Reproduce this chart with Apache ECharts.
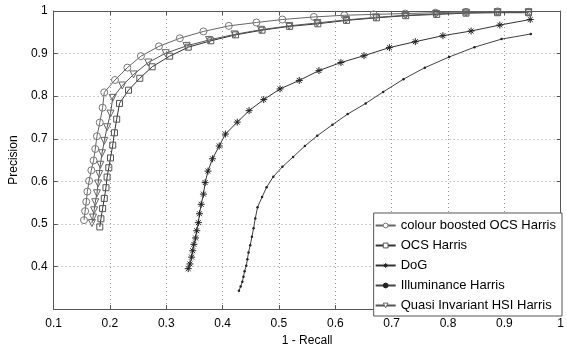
<!DOCTYPE html>
<html>
<head>
<meta charset="utf-8">
<script src="https://cdn.jsdelivr.net/npm/echarts@6/dist/echarts.min.js"></script>
<style>
  html, body { margin: 0; padding: 0; background: #fff; }
  #chart { width: 567px; height: 352px; }
</style>
</head>
<body>
<div id="chart"></div>
<script>
// 1 - recall (x) vs precision (y)
const seriesNames = [
  'colour boosted OCS Harris',
  'OCS Harris',
  'DoG',
  'Illuminance Harris',
  'Quasi Invariant HSI Harris',
]

const cbOcsHarris = [
  [0.154, 0.509], [0.156, 0.530], [0.158, 0.552], [0.160, 0.576], [0.163, 0.601],
  [0.167, 0.626], [0.171, 0.649], [0.174, 0.676], [0.177, 0.706], [0.182, 0.738],
  [0.187, 0.773], [0.190, 0.809], [0.209, 0.838], [0.231, 0.867], [0.255, 0.894],
  [0.287, 0.917], [0.324, 0.936], [0.366, 0.952], [0.411, 0.965], [0.460, 0.973],
  [0.506, 0.980], [0.562, 0.986], [0.616, 0.990], [0.668, 0.992], [0.724, 0.994],
  [0.778, 0.996], [0.832, 0.998], [0.888, 0.999], [0.943, 0.998],
]

const ocsHarris = [
  [0.182, 0.493], [0.184, 0.512], [0.187, 0.536], [0.190, 0.560], [0.193, 0.585],
  [0.195, 0.610], [0.198, 0.632], [0.201, 0.655], [0.205, 0.685], [0.208, 0.714],
  [0.212, 0.746], [0.217, 0.783], [0.233, 0.814], [0.253, 0.842], [0.275, 0.869],
  [0.306, 0.894], [0.339, 0.915], [0.379, 0.930], [0.423, 0.944], [0.470, 0.955],
  [0.519, 0.964], [0.569, 0.970], [0.620, 0.978], [0.673, 0.984], [0.725, 0.989],
  [0.780, 0.992], [0.832, 0.995], [0.888, 0.996], [0.943, 0.996],
]

const dog = [
  [0.339, 0.395], [0.342, 0.406], [0.345, 0.422], [0.347, 0.437], [0.349, 0.452],
  [0.352, 0.467], [0.354, 0.484], [0.357, 0.503], [0.359, 0.524], [0.362, 0.546],
  [0.366, 0.570], [0.369, 0.597], [0.374, 0.624], [0.382, 0.653], [0.394, 0.683],
  [0.405, 0.711], [0.426, 0.739], [0.447, 0.766], [0.473, 0.792], [0.502, 0.817],
  [0.536, 0.837], [0.571, 0.860], [0.610, 0.879], [0.651, 0.895], [0.696, 0.914],
  [0.742, 0.928], [0.791, 0.942], [0.841, 0.953], [0.892, 0.967], [0.946, 0.980],
]

const illumHarris = [
  [0.429, 0.343], [0.432, 0.353], [0.435, 0.364], [0.437, 0.376], [0.439, 0.389],
  [0.442, 0.402], [0.444, 0.417], [0.446, 0.433], [0.449, 0.450], [0.452, 0.470],
  [0.455, 0.490], [0.458, 0.513], [0.462, 0.539], [0.470, 0.563], [0.478, 0.586],
  [0.490, 0.611], [0.506, 0.634], [0.525, 0.657], [0.546, 0.683], [0.568, 0.707],
  [0.595, 0.733], [0.622, 0.758], [0.654, 0.783], [0.685, 0.810], [0.721, 0.840],
  [0.759, 0.867], [0.802, 0.892], [0.847, 0.915], [0.895, 0.934], [0.947, 0.946],
]

const qiHsiHarris = [
  [0.168, 0.502], [0.170, 0.515], [0.172, 0.532], [0.174, 0.551], [0.177, 0.572],
  [0.179, 0.595], [0.181, 0.617], [0.183, 0.639], [0.186, 0.666], [0.190, 0.695],
  [0.195, 0.727], [0.201, 0.759], [0.205, 0.796], [0.222, 0.825], [0.242, 0.851],
  [0.268, 0.879], [0.299, 0.901], [0.336, 0.918], [0.376, 0.932], [0.421, 0.945],
  [0.468, 0.956], [0.518, 0.965], [0.568, 0.972], [0.619, 0.979], [0.672, 0.985],
  [0.725, 0.990], [0.779, 0.993], [0.832, 0.996], [0.888, 0.997], [0.943, 0.997],
]

const xTicks = { min: 0.1, max: 1, step: 0.1 }
const yTicks = { min: 0.3, max: 1, step: 0.1 }

const FONT = '"Liberation Sans", Arial, Helvetica, sans-serif'

// outline-only marker shapes (MATLAB style: o, s, *, ., v)
const SYM_CIRCLE = 'path://M10,0A10,10,0,1,1,-10,0A10,10,0,1,1,10,0Z'
const SYM_SQUARE = 'path://M-10,-10L10,-10L10,10L-10,10Z'
const SYM_STAR = 'path://M0,-10L0,10M-10,0L10,0M-7,-7L7,7M-7,7L7,-7'
const SYM_TRI_DOWN = 'path://M-10,-8L10,-8L0,10Z'

function fmt(v) {
  return String(+v.toFixed(1))
}

function line(name, data, symbol, size, color, markColor, extra) {
  return Object.assign({
    name,
    type: 'line',
    data,
    symbol,
    symbolSize: size,
    showSymbol: true,
    animation: false,
    lineStyle: { width: 1, color },
    itemStyle: { color: 'none', borderColor: markColor, borderWidth: 1 },
    emphasis: { disabled: true },
    z: 3,
  }, extra || {})
}

function legendItem(name, markColor, fill) {
  return {
    name,
    itemStyle: { color: fill || '#fff', borderColor: markColor, borderWidth: 1 },
  }
}

const chart = echarts.init(document.getElementById('chart'))

const gridCommon = {
  axisLine: { show: true, lineStyle: { color: '#555', width: 1 } },
  axisTick: { show: true, inside: true, length: 4, lineStyle: { color: '#555' } },
}

chart.setOption({
  backgroundColor: '#fff',
  animation: false,
  textStyle: { fontFamily: FONT },
  grid: { left: 49, right: 5, top: 11, bottom: 36, show: false },
  legend: {
    data: [
      legendItem(seriesNames[0], '#777'),
      legendItem(seriesNames[1], '#555'),
      legendItem(seriesNames[2], '#222'),
      legendItem(seriesNames[3], '#222', '#222'),
      legendItem(seriesNames[4], '#666'),
    ],
    orient: 'vertical',
    right: 5,
    top: 213,
    backgroundColor: '#fff',
    borderColor: '#555',
    borderWidth: 1,
    borderRadius: 0,
    padding: [5, 6, 3, 1],
    itemGap: 5,
    itemWidth: 20,
    itemHeight: 6,
    textStyle: { fontSize: 13, lineHeight: 15, color: '#000', fontFamily: FONT },
  },
  xAxis: [
    Object.assign({
      type: 'value',
      min: xTicks.min,
      max: xTicks.max,
      interval: xTicks.step,
      name: '1 - Recall',
      nameLocation: 'middle',
      nameGap: 23,
      nameTextStyle: { fontSize: 12, color: '#000', fontFamily: FONT },
      axisLabel: { fontSize: 12, color: '#000', margin: 9, formatter: fmt },
      splitLine: { show: true, lineStyle: { type: [1, 3], color: '#999' } },
    }, gridCommon),
    Object.assign({
      type: 'value',
      position: 'top',
      min: xTicks.min,
      max: xTicks.max,
      interval: xTicks.step,
      axisLabel: { show: false },
      splitLine: { show: false },
    }, gridCommon),
  ],
  yAxis: [
    Object.assign({
      type: 'value',
      min: yTicks.min,
      max: yTicks.max,
      interval: yTicks.step,
      name: 'Precision',
      nameLocation: 'middle',
      nameGap: 33,
      nameRotate: 90,
      nameTextStyle: { fontSize: 12, color: '#000', fontFamily: FONT },
      axisLabel: { fontSize: 12, color: '#000', margin: 6, showMinLabel: false, formatter: fmt },
      splitLine: { show: true, lineStyle: { type: [1, 3], color: '#999' } },
    }, gridCommon),
    Object.assign({
      type: 'value',
      position: 'right',
      min: yTicks.min,
      max: yTicks.max,
      interval: yTicks.step,
      axisLabel: { show: false },
      splitLine: { show: false },
    }, gridCommon),
  ],
  series: [
    line(seriesNames[0], cbOcsHarris, SYM_CIRCLE, 7, '#666', '#777'),
    line(seriesNames[1], ocsHarris, SYM_SQUARE, 6, '#333', '#555'),
    line(seriesNames[2], dog, SYM_STAR, 7, '#333', '#222'),
    line(seriesNames[3], illumHarris, 'circle', 2.5, '#444', '#222', {
      itemStyle: { color: '#222', borderWidth: 0 },
    }),
    line(seriesNames[4], qiHsiHarris, SYM_TRI_DOWN, 7, '#555', '#666'),
  ],
})
</script>
</body>
</html>
